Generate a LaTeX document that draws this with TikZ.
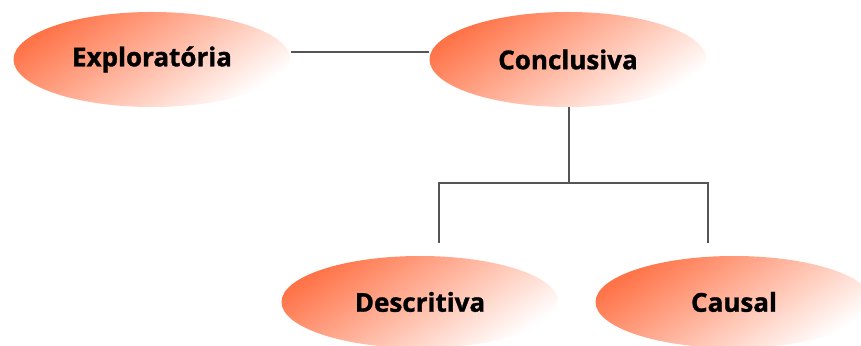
\documentclass[tikz,border=0pt]{standalone}
\usepackage{fontspec}
\setmainfont{Open Sans}[BoldFeatures={FakeBold=1.2}]
\usetikzlibrary{shapes.geometric}
\definecolor{orng}{RGB}{255,115,72}
\definecolor{lnk}{RGB}{85,85,85}
\tikzset{
  oval/.style={ellipse, minimum width=277pt, minimum height=95pt, inner sep=0pt,
    top color=orng, bottom color=white, shading angle=34,
    font=\fontsize{26}{30}\selectfont\bfseries, text=black},
  link/.style={draw=lnk, line width=2pt}
}
\begin{document}
\begin{tikzpicture}[x=1pt,y=1pt]
\useasboundingbox (0,0) rectangle (861,345);
\node[oval] (E) at (152,285.5) {Exploratória};
\node[oval] (C) at (568,285.5) {Conclusiva};
\node[oval, minimum height=92pt] (D) at (420,43) {Descritiva};
\node[oval, minimum height=92pt] (K) at (734,43) {Causal};
\coordinate (J) at (569,162);
\coordinate (JL) at (439,162);
\coordinate (JR) at (708,162);
\coordinate (DL) at (439,102);
\coordinate (DR) at (708,102);
\draw[link] ([yshift=7pt]E.east) -- ([yshift=7pt]C.west);
\draw[link] (C.south -| J) -- (J);
\draw[link] (DL) -- (JL) -- (JR) -- (DR);
\end{tikzpicture}
\end{document}
